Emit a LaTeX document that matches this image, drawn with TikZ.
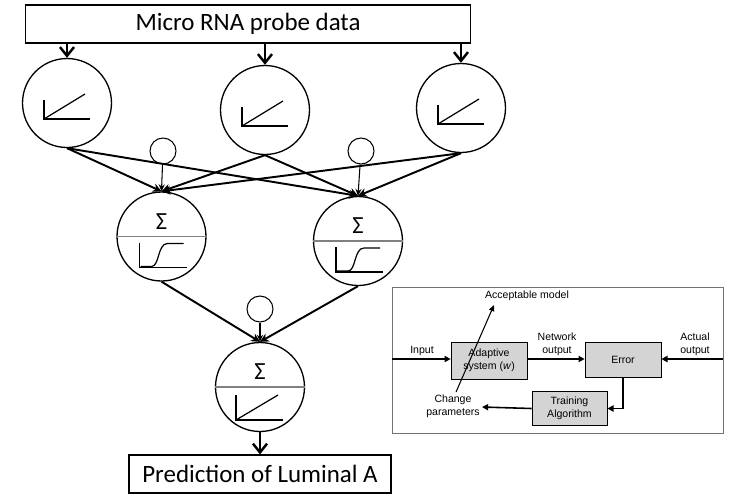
\documentclass[tikz,border=0pt]{standalone}
\usepackage{fontspec}
\setmainfont{Carlito}
\newfontfamily\arialf{Liberation Sans}
\usetikzlibrary{arrows.meta,calc}

\tikzset{
  unit/.style={circle,draw,line width=0.75pt,minimum size=1.78cm,inner sep=0pt},
  bias/.style={circle,draw,line width=0.6pt,minimum size=0.52cm,inner sep=0pt},
  bigbox/.style={draw,line width=0.7pt,font=\fontsize{14.2}{16}\selectfont},
  wire/.style={line width=1.1pt,-{Stealth[length=5pt,width=5pt]}},
  feed/.style={line width=1.3pt,-{Straight Barb[length=5pt,width=8pt,line width=1.4pt]}},
  thin arrow/.style={line width=0.6pt,-{Stealth[length=4pt,width=3.5pt]}},
  icon/.style={line width=0.7pt},
  gbox/.style={draw,fill=black!17,line width=0.4pt,font=\arialf\fontsize{6}{7.2}\selectfont,align=center},
  lbl/.style={font=\arialf\fontsize{6}{7.2}\selectfont,align=center,inner sep=0pt},
  iarr/.style={line width=0.9pt,-{Triangle[length=3.5pt,width=3.5pt]}}
}

\begin{document}
\begin{tikzpicture}[x=0.02cm,y=-0.02cm]
	\useasboundingbox (0,0) rectangle (729,498);

	% input data and output
	\node[bigbox,minimum width=8.9cm,minimum height=0.76cm] (probe) at (248,24) {Micro RNA probe data};
	\node[bigbox,minimum width=5.24cm,minimum height=0.76cm] (pred) at (260,474) {Prediction of Luminal A};

	% neurons
	\node[unit] (in1) at (67,103) {};
	\node[unit] (in2) at (265,110) {};
	\node[unit] (in3) at (461,108) {};
	\node[unit] (hid1) at (161.5,236.5) {};
	\node[unit] (hid2) at (358,241) {};
	\node[unit] (out) at (260,387) {};

	\node[bias] (bias1) at (163,151) {};
	\node[bias] (bias2) at (361,151) {};
	\node[bias] (bias3) at (260,309) {};

	% linear icons
	\foreach \n in {in1,in2,in3}{
		\begin{scope}[shift={(\n.center)}]
			\draw[icon] (-23,-3) -- (-23,16) -- (23,16);
			\draw[icon] (-23,16) -- (18,-9);
		\end{scope}
	}

	% summing units
	\foreach \n in {hid1,hid2,out}{
		\draw[gray,line width=0.6pt] (\n.west) -- (\n.east);
		\node[font=\fontsize{14}{16}\selectfont] (sig\n) at ($(\n.center)+(0,-15)$) {Σ};
	}
	\foreach \n in {hid1,hid2}{
		\begin{scope}[shift={(\n.center)}]
			\draw[icon] (-22,6) -- (-22,31) -- (25,31);
			\draw[icon] (-21,30) -- (-10,30) .. controls (-2,30) and (-4,7) .. (6,7) -- (22,7);
		\end{scope}
	}
	\begin{scope}[shift={(out.center)}]
		\draw[icon] (-24,8) -- (-24,33) -- (23,33);
		\draw[icon] (-24,33) -- (18,8);
	\end{scope}

	% connections
	\foreach \i in {1,2,3}{
		\draw[feed] (probe.south -| in\i) -- (in\i.north);
		\foreach \h in {1,2}
			\draw[wire] (in\i.south) -- (hid\h.north);
	}
	\draw[thin arrow] (bias1) -- (hid1.north);
	\draw[thin arrow] (bias2) -- (hid2.north);
	\draw[wire] (hid1.south) -- (out.north);
	\draw[wire] (hid2.south) -- (out.north);
	\draw[thin arrow] (bias3) -- (out.north);
	\draw[feed] (out.south) -- (pred.north);

	% training scheme
	\draw[black!55,line width=0.5pt] (392,287) rectangle (723,433);
	\node[gbox,minimum width=1.52cm,minimum height=0.74cm] (adapt) at (489,360.5) {Adaptive\\system (\textit{w})};
	\node[gbox,minimum width=1.52cm,minimum height=0.7cm] (err) at (623,359.5) {Error};
	\node[gbox,minimum width=1.5cm,minimum height=0.66cm] (train) at (569.5,408.5) {Training\\Algorithm};

	\coordinate (inL) at (392,359);
	\coordinate (actR) at (723,359);
	\coordinate (chg) at (482,407);
	\coordinate (diagA) at (456,392);
	\coordinate (diagB) at (494,305);

	\node[lbl] (lin) at (422,351) {Input};
	\node[lbl] (lnet) at (557,344) {Network\\output};
	\node[lbl] (lact) at (695,344) {Actual\\output};
	\node[lbl] (lchg) at (453,406) {Change\\parameters};
	\node[lbl] (lacc) at (527,296) {Acceptable model};

	\draw[iarr] (inL) -- (inL -| adapt.west);
	\draw[iarr] (adapt.east |- inL) -- (inL -| err.west);
	\draw[iarr] (actR) -- (actR -| err.east);
	\draw[iarr] (err.south) |- (train.east);
	\draw[iarr] (train.west) -- (chg);
	\draw[line width=0.6pt,-{Triangle[length=3.5pt,width=3pt]}] (diagA) -- (diagB);
\end{tikzpicture}
\end{document}
